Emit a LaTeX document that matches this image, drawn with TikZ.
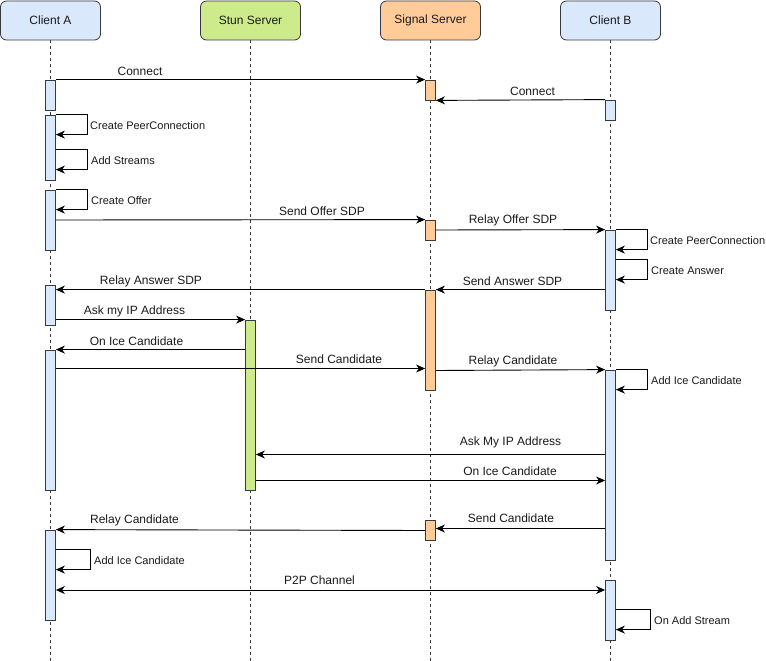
\documentclass[tikz,border=0pt]{standalone}
\usepackage{fontspec}
\setmainfont{Liberation Sans}
\usetikzlibrary{arrows.meta,calc}
\definecolor{blueF}{HTML}{DAE8FC}
\definecolor{greenF}{HTML}{CDEB8B}
\definecolor{orangeF}{HTML}{FFCC99}
\definecolor{strokeC}{HTML}{36393D}
\definecolor{txt}{HTML}{1A1A1A}
\begin{document}
\begin{tikzpicture}[x=1pt,y=-1pt,
 head/.style={draw=strokeC, line width=0.8pt, rounded corners=6pt, minimum width=100pt, minimum height=39pt, inner sep=0, font=\fontsize{12}{14}\selectfont, text=txt},
 bar/.style={draw=strokeC, line width=0.8pt, inner sep=0, minimum width=10pt},
 life/.style={draw=strokeC, line width=0.8pt, dash pattern=on 3pt off 3pt},
 msg/.style={draw=black, line width=0.9pt, -{Stealth[length=9pt,width=8pt,inset=2.8pt]}},
 msgtwo/.style={draw=black, line width=0.9pt, {Stealth[length=9pt,width=8pt,inset=2.8pt]}-{Stealth[length=9pt,width=8pt,inset=2.8pt]}},
 lbl/.style={font=\fontsize{12}{14}\selectfont, text=txt, inner sep=0},
 slbl/.style={font=\fontsize{11}{13}\selectfont, text=txt, inner sep=0, anchor=west},
]
\useasboundingbox[fill=white] (0,0) rectangle (766,661);

% headers
\node[head, fill=blueF]   (hA) at (50.5,20.5)  {Client A};
\node[head, fill=greenF]  (hT) at (250.5,20.5) {Stun Server};
\node[head, fill=orangeF] (hS) at (430.5,20.5) {Signal Server};
\node[head, fill=blueF]   (hB) at (610.5,20.5) {Client B};

\coordinate (yend) at (0,661);
\draw[life] (hA.south) -- (hA.south |- yend);
\draw[life] (hT.south) -- (hT.south |- yend);
\draw[life] (hS.south) -- (hS.south |- yend);
\draw[life] (hB.south) -- (hB.south |- yend);

% activation bars: Client A
\node[bar, fill=blueF, minimum height=30pt] (a1) at (50.5,95) {};
\node[bar, fill=blueF, minimum height=65pt] (a2) at (50.5,147.5) {};
\node[bar, fill=blueF, minimum height=60pt] (a3) at (50.5,220) {};
\node[bar, fill=blueF, minimum height=40pt] (a4) at (50.5,305) {};
\node[bar, fill=blueF, minimum height=140pt] (a5) at (50.5,420) {};
\node[bar, fill=blueF, minimum height=90pt] (a6) at (50.5,575) {};
% Stun
\node[bar, fill=greenF, minimum height=170pt] (t1) at (250.5,405) {};
% Signal
\node[bar, fill=orangeF, minimum height=20pt] (s1) at (430.5,90) {};
\node[bar, fill=orangeF, minimum height=20pt] (s2) at (430.5,230) {};
\node[bar, fill=orangeF, minimum height=100pt] (s3) at (430.5,340) {};
\node[bar, fill=orangeF, minimum height=20pt] (s4) at (430.5,530) {};
% Client B
\node[bar, fill=blueF, minimum height=20pt] (b1) at (610.5,110) {};
\node[bar, fill=blueF, minimum height=80pt] (b2) at (610.5,270) {};
\node[bar, fill=blueF, minimum height=190pt] (b3) at (610.5,465) {};
\node[bar, fill=blueF, minimum height=60pt] (b4) at (610.5,610) {};

% y levels
\coordinate (y368) at (0,368.5);
\coordinate (y370) at (0,370.5);
\coordinate (y454) at (0,454.5);
\coordinate (y480) at (0,480.5);
\coordinate (y528) at (0,528.5);
\coordinate (y530) at (0,530.5);
\coordinate (y590) at (0,590);

% messages
\draw[msg] (a1.north east) -- (s1.north west);
\node[lbl] (l1) at (140,71.5) {Connect};
\draw[msg] (b1.north west) -- (s1.south east);
\node[lbl] (l2) at (532.5,91.5) {Connect};

\draw[msg] (a2.north east) -- ++(32,0) |- ($(a2.north east)+(0,20)$);
\node[slbl] (l3) at (90,125.5) {Create PeerConnection};
\draw[msg] ($(a2.north east)+(0,35)$) -- ++(32,0) |- ($(a2.north east)+(0,55)$);
\node[slbl] (l4) at (91,160.5) {Add Streams};
\draw[msg] (a3.north east) -- ++(32,0) |- ($(a3.north east)+(0,20)$);
\node[slbl] (l5) at (91,200.5) {Create Offer};

\draw[msg] (a3.east) -- (s2.north west);
\node[lbl] (l6) at (322,211.5) {Send Offer SDP};
\draw[msg] (s2.east) -- (b2.north west);
\node[lbl] (l7) at (513,220.5) {Relay Offer SDP};

\draw[msg] (b2.north east) -- ++(32,0) |- ($(b2.north east)+(0,20)$);
\node[slbl] (l8) at (650,240.5) {Create PeerConnection};
\draw[msg] ($(b2.north east)+(0,30)$) -- ++(32,0) |- ($(b2.north east)+(0,50)$);
\node[slbl] (l9) at (651,270.5) {Create Answer};

\draw[msg] (b2.west |- s3.north) -- (s3.north east);
\node[lbl] (l10) at (512.5,281.5) {Send Answer SDP};
\draw[msg] (s3.north west) -- (a4.east |- s3.north);
\node[lbl] (l11) at (151,281.5) {Relay Answer SDP};

\draw[msg] (a4.east |- t1.north) -- (t1.north west);
\node[lbl] (l12) at (134.5,311.5) {Ask my IP Address};
\draw[msg] (t1.west |- a5.north) -- (a5.north east);
\node[lbl] (l13) at (136.5,341.5) {On Ice Candidate};

\draw[msg] (a5.east |- y368) -- (s3.west |- y368);
\node[lbl] (l14) at (339,359.5) {Send Candidate};
\draw[msg] (s3.east |- y370) -- (b3.north west);
\node[lbl] (l15) at (513,361.5) {Relay Candidate};

\draw[msg] (b3.north east) -- ++(32,0) |- ($(b3.north east)+(0,20)$);
\node[slbl] (l16) at (651,380.5) {Add Ice Candidate};

\draw[msg] (b3.west |- y454) -- (t1.east |- y454);
\node[lbl] (l17) at (510.5,442.5) {Ask My IP Address};
\draw[msg] (t1.east |- y480) -- (b3.west |- y480);
\node[lbl] (l18) at (510,471) {On Ice Candidate};

\draw[msg] (b3.west |- y528) -- (s4.east |- y528);
\node[lbl] (l19) at (511,518) {Send Candidate};
\draw[msg] (s4.west |- y530) -- (a6.north east);
\node[lbl] (l20) at (134.5,520.5) {Relay Candidate};

\draw[msg] ($(a6.north east)+(0,20)$) -- ++(35,0) |- ($(a6.north east)+(0,40)$);
\node[slbl] (l21) at (94,560.5) {Add Ice Candidate};

\draw[msgtwo] (a6.east |- y590) -- (b4.west |- y590);
\node[lbl] (l22) at (319.5,580.5) {P2P Channel};

\draw[msg] ($(b4.north east)+(0,30)$) -- ++(35,0) |- ($(b4.north east)+(0,50)$);
\node[slbl] (l23) at (654,620.5) {On Add Stream};
\end{tikzpicture}
\end{document}
